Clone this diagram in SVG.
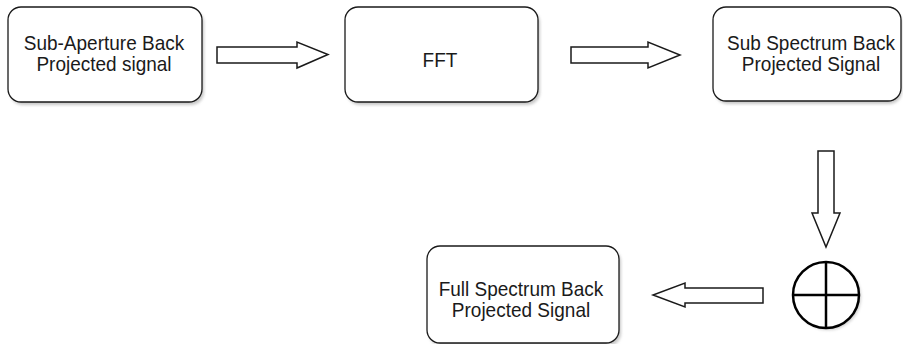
<svg xmlns="http://www.w3.org/2000/svg" width="903" height="344" viewBox="0 0 903 344">
  <style>
    .box { fill: #ffffff; stroke: #1a1a1a; stroke-width: 1.3; }
    .shadow { fill: #9a9a9a; opacity: 0.55; }
    .lbl { font-family: "Liberation Sans", Arial, sans-serif; font-size: 19px; fill: #1a1a1a; text-anchor: middle; }
    .arr { fill: #ffffff; stroke: #1a1a1a; stroke-width: 1.5; stroke-linejoin: miter; }
    .sum { fill: #ffffff; stroke: #000000; stroke-width: 2.5; }
  </style>
  <defs>
    <filter id="blur" x="-10%" y="-10%" width="120%" height="130%">
      <feGaussianBlur stdDeviation="1.5"/>
    </filter>
  </defs>
  <rect width="903" height="344" fill="#ffffff"/>

  <g id="node-subaperture">
    <rect class="shadow" x="10" y="10" width="194" height="95" rx="13" filter="url(#blur)"/>
    <rect class="box" x="8" y="7" width="194" height="95" rx="13"/>
    <text class="lbl" transform="translate(104,50) scale(1,1.1)">Sub-Aperture Back</text>
    <text class="lbl" transform="translate(104,71) scale(1,1.1)">Projected signal</text>
  </g>

  <g id="node-fft">
    <rect class="shadow" x="347" y="10" width="193" height="95" rx="13" filter="url(#blur)"/>
    <rect class="box" x="345" y="7" width="193" height="95" rx="13"/>
    <text class="lbl" transform="translate(440,67) scale(1,1.1)">FFT</text>
  </g>

  <g id="node-subspectrum">
    <rect class="shadow" x="715" y="10" width="187" height="94" rx="13" filter="url(#blur)"/>
    <rect class="box" x="713" y="7" width="188" height="94" rx="13"/>
    <text class="lbl" transform="translate(811,50) scale(1,1.1)">Sub Spectrum Back</text>
    <text class="lbl" transform="translate(811,71) scale(1,1.1)">Projected Signal</text>
  </g>

  <g id="node-sum">
    <circle cx="828" cy="297" r="33" fill="#9a9a9a" opacity="0.5" filter="url(#blur)"/>
    <circle class="sum" cx="826" cy="295" r="33"/>
    <line x1="793" y1="295" x2="859" y2="295" stroke="#000" stroke-width="2.5"/>
    <line x1="826" y1="262" x2="826" y2="328" stroke="#000" stroke-width="2.5"/>
  </g>

  <g id="node-fullspectrum">
    <rect class="shadow" x="429" y="249" width="192" height="97" rx="13" filter="url(#blur)"/>
    <rect class="box" x="427" y="246" width="192" height="97" rx="13"/>
    <text class="lbl" transform="translate(521,296) scale(1,1.1)">Full Spectrum Back</text>
    <text class="lbl" transform="translate(521,317) scale(1,1.1)">Projected Signal</text>
  </g>

  <g id="connectors">
    <polygon class="arr" points="217,47 297,47 297,42 328,54.5 297,68 297,63 217,63"/>
    <polygon class="arr" points="571,47 648,47 648,42 680,55 648,68 648,63 571,63"/>
    <polygon class="arr" points="818,151 834,151 834,213 840,213 826,247 812,213 818,213"/>
    <polygon class="arr" points="763,288 685,288 685,283 653,295 685,307 685,303 763,303"/>
  </g>
</svg>
